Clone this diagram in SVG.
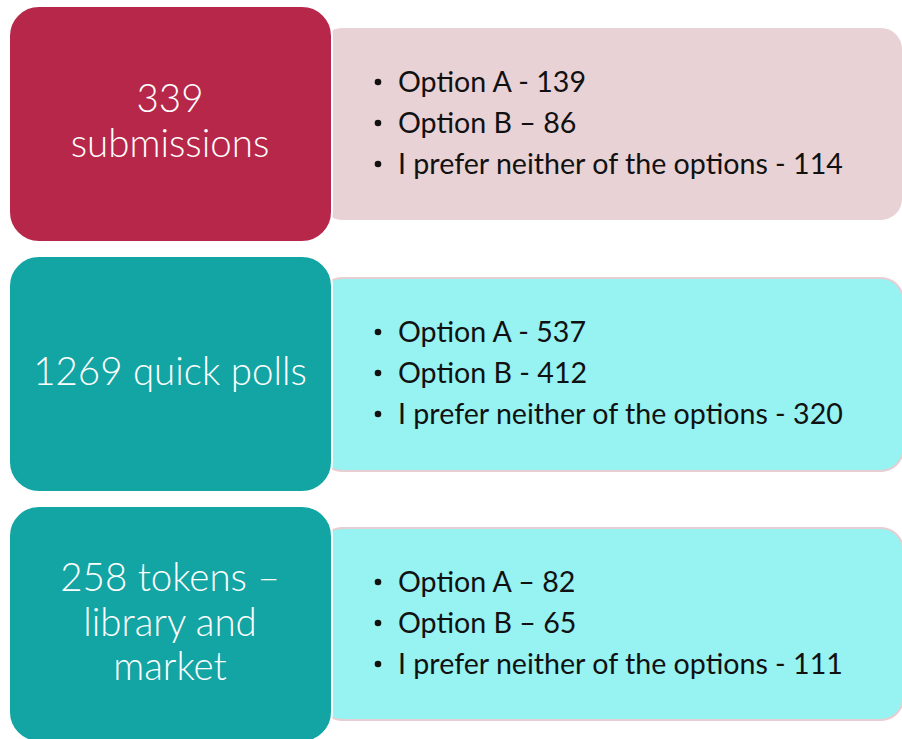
<svg xmlns="http://www.w3.org/2000/svg" width="902" height="739" viewBox="0 0 902 739">
<style>
.lt{font-family:Lato,"Open Sans","Liberation Sans",sans-serif;font-size:38.5px;font-weight:300;fill:#fff;text-anchor:middle}
.rt{font-family:Lato,"Open Sans","Liberation Sans",sans-serif;font-size:28.6px;fill:#111}
.bul{fill:#111}
.p1{fill:#E8D2D5;stroke:#fff;stroke-width:2}
.p2{fill:#97F2F2;stroke:#E6CED2;stroke-width:2}
</style>
<rect width="902" height="739" fill="#fff"/>
<g id="panel1">
<rect class="p1" x="320" y="27" width="583" height="194" rx="22"/>
<rect x="9" y="6" width="323" height="236" rx="30" fill="#B7274A" stroke="#fff" stroke-width="2"/>
<text class="lt" x="170" y="112">339</text>
<text class="lt" x="170" y="157">submissions</text>
<circle class="bul" cx="378" cy="82" r="3.3"/><text class="rt" x="398" y="92">Option A - 139</text>
<circle class="bul" cx="378" cy="123" r="3.3"/><text class="rt" x="398" y="133">Option B – 86</text>
<circle class="bul" cx="378" cy="164" r="3.3"/><text class="rt" x="398" y="174">I prefer neither of the options - 114</text>
</g>
<g id="panel2">
<rect class="p2" x="320" y="278" width="583" height="193" rx="22"/>
<rect x="9" y="256" width="323" height="236" rx="30" fill="#13A4A4" stroke="#fff" stroke-width="2"/>
<text class="lt" x="170" y="385">1269 quick polls</text>
<circle class="bul" cx="378" cy="332" r="3.3"/><text class="rt" x="398" y="342">Option A - 537</text>
<circle class="bul" cx="378" cy="373" r="3.3"/><text class="rt" x="398" y="383">Option B - 412</text>
<circle class="bul" cx="378" cy="414" r="3.3"/><text class="rt" x="398" y="424">I prefer neither of the options - 320</text>
</g>
<g id="panel3">
<rect class="p2" x="320" y="528" width="583" height="192" rx="22"/>
<rect x="9" y="506" width="323" height="236" rx="30" fill="#13A4A4" stroke="#fff" stroke-width="2"/>
<text class="lt" x="170" y="591">258 tokens –</text>
<text class="lt" x="170" y="636">library and</text>
<text class="lt" x="170" y="680">market</text>
<circle class="bul" cx="378" cy="582" r="3.3"/><text class="rt" x="398" y="592">Option A – 82</text>
<circle class="bul" cx="378" cy="623" r="3.3"/><text class="rt" x="398" y="633">Option B – 65</text>
<circle class="bul" cx="378" cy="664" r="3.3"/><text class="rt" x="398" y="674">I prefer neither of the options - 111</text>
</g>
<g id="connectors"/>
</svg>
